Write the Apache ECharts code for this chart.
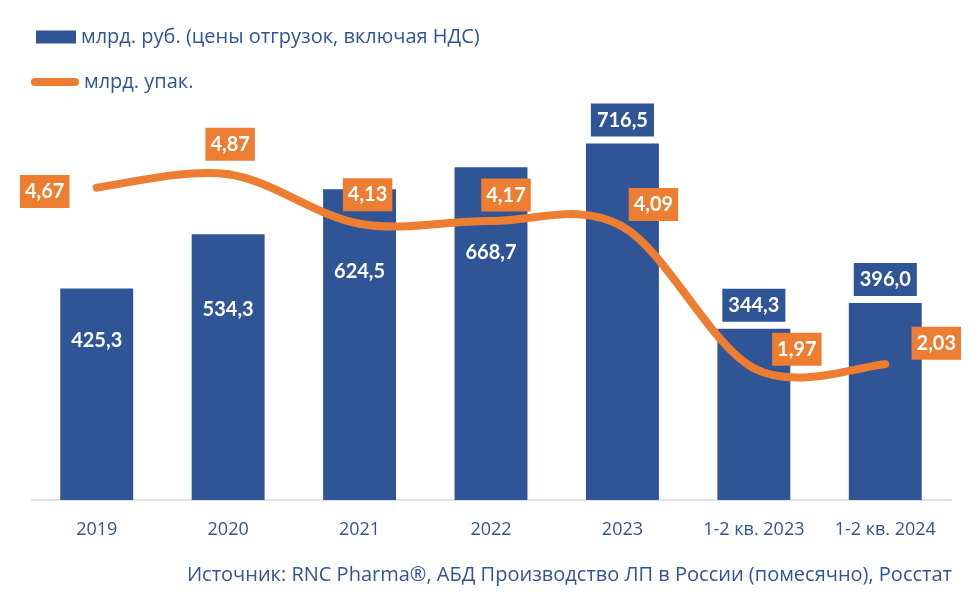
<!DOCTYPE html>
<html>
<head>
<meta charset="utf-8">
<script src="https://cdn.jsdelivr.net/npm/echarts@6/dist/echarts.min.js"></script>
<style>
  html, body { margin: 0; padding: 0; background: #fff; }
  #chart { width: 974px; height: 593px; }
</style>
</head>
<body>
<div id="chart"></div>
<script>
var categories = ['2019', '2020', '2021', '2022', '2023', '1-2 кв. 2023', '1-2 кв. 2024'];
var rubValues = [425.3, 534.3, 624.5, 668.7, 716.5, 344.3, 396.0];
var packValues = [4.67, 4.87, 4.13, 4.17, 4.09, 1.97, 2.03];

var rubName = 'млрд. руб. (цены отгрузок, включая НДС)';
var packName = 'млрд. упак.';

var BLUE = '#2F5597';
var ORANGE = '#ED7D31';
var TEXT_FONT = "'Open Sans', 'Noto Sans', sans-serif";
var LABEL_FONT = "Lato, 'Noto Sans', sans-serif";

// label placement, like the hand-moved labels of the original
var barLabelInside = [true, true, true, true, false, false, false];
var barLabelShift = [-54, -58, -73, -81, 0, 0, 0];
var lineLabelShift = [[-52, 4], [2, -30], [8, -29], [15, -26], [31, -22], [43, -19], [51, -21]];

function comma(v, d) {
	return v.toFixed(d).replace('.', ',');
}

var barData = rubValues.map(function (v, i) {
	var label = barLabelInside[i] ? {
		position: 'inside',
		offset: [0, barLabelShift[i]]
	} : {
		position: 'top',
		distance: 7,
		backgroundColor: BLUE,
		padding: [7, 6, 6, 6]
	};
	return { value: v, label: label };
});

var lineData = packValues.map(function (v, i) {
	return {
		value: v,
		label: { position: 'inside', offset: lineLabelShift[i] }
	};
});

// excel-like spline: one bezier segment per pair of points
function renderCurve(params, api) {
	var i = params.dataIndex;
	var n = packValues.length;
	if (i >= n - 1) return null;
	function pt(k) {
		k = Math.max(0, Math.min(n - 1, k));
		return api.coord([k, packValues[k]]);
	}
	var p0 = pt(i - 1), p1 = pt(i), p2 = pt(i + 1), p3 = pt(i + 2);
	return {
		type: 'bezierCurve',
		shape: {
			x1: p1[0], y1: p1[1],
			x2: p2[0], y2: p2[1],
			cpx1: p1[0] + (p2[0] - p0[0]) / 6,
			cpy1: p1[1] + (p2[1] - p0[1]) / 6,
			cpx2: p2[0] - (p3[0] - p1[0]) / 6,
			cpy2: p2[1] - (p3[1] - p1[1]) / 6
		},
		style: { stroke: ORANGE, lineWidth: 8, lineCap: 'round', fill: null }
	};
}

var chart = echarts.init(document.getElementById('chart'), null, { renderer: 'canvas' });

chart.setOption({
	animation: false,
	textStyle: { fontFamily: TEXT_FONT },
	legend: [{
		data: [{ name: rubName, icon: 'rect' }],
		left: 36, top: 27, padding: 0,
		itemWidth: 40, itemHeight: 13,
		textStyle: { color: BLUE, fontSize: 20, fontFamily: TEXT_FONT }
	}, {
		data: [{
			name: packName,
			icon: 'path://M4,0 H44 A4,4 0 0 1 44,8 H4 A4,4 0 0 1 4,0 Z',
			itemStyle: { color: ORANGE, opacity: 1, borderWidth: 0 }
		}],
		left: 31, top: 72, padding: 0,
		itemWidth: 48, itemHeight: 8,
		textStyle: { color: BLUE, fontSize: 20, fontFamily: TEXT_FONT }
	}],
	grid: { left: 31, right: 23, top: 102, bottom: 93, containLabel: false },
	xAxis: {
		type: 'category',
		data: categories,
		axisLine: { lineStyle: { color: '#D9D9D9', width: 1.5 } },
		axisTick: { show: false },
		axisLabel: { color: BLUE, fontSize: 18, margin: 21, interval: 0, fontFamily: TEXT_FONT }
	},
	yAxis: [{
		type: 'value', min: 0, max: 800, show: false, splitLine: { show: false }
	}, {
		type: 'value', min: 0, max: 5.95, show: false, splitLine: { show: false }
	}],
	series: [{
		name: rubName,
		type: 'bar',
		barWidth: '55.5%',
		itemStyle: { color: BLUE },
		label: {
			show: true,
			color: '#fff',
			fontWeight: 'bold',
			fontSize: 20,
			fontFamily: LABEL_FONT,
			formatter: function (p) { return comma(p.value, 1); }
		},
		data: barData
	}, {
		name: 'curve',
		type: 'custom',
		yAxisIndex: 1,
		silent: true,
		z: 3,
		encode: { x: 0, y: 1 },
		renderItem: renderCurve,
		data: packValues.map(function (v, i) { return [i, v]; })
	}, {
		name: packName,
		type: 'line',
		yAxisIndex: 1,
		symbol: 'circle',
		symbolSize: 1,
		itemStyle: { color: ORANGE },
		lineStyle: { color: 'transparent', width: 1 },
		label: {
			show: true,
			color: '#fff',
			fontWeight: 'bold',
			fontSize: 20,
			fontFamily: LABEL_FONT,
			backgroundColor: ORANGE,
			padding: [7, 5, 6, 5],
			formatter: function (p) { return comma(p.value, 2); }
		},
		z: 4,
		data: lineData
	}],
	graphic: [{
		type: 'text',
		right: 22,
		top: 565,
		style: {
			text: 'Источник: RNC Pharma®, АБД Производство ЛП в России (помесячно), Росстат',
			fill: BLUE,
			font: "20px 'Open Sans', 'Noto Sans', sans-serif"
		}
	}]
});
</script>
</body>
</html>
